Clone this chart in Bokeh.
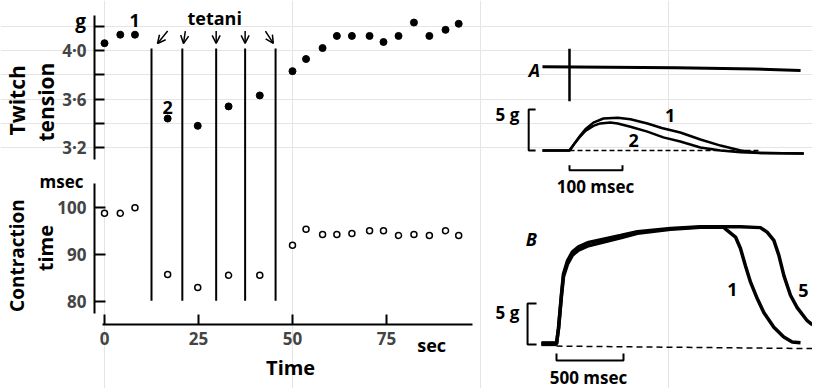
import math
from bokeh.plotting import figure
from bokeh.models import (Range1d, FixedTicker, Label, Arrow, OpenHead, ColumnDataSource,
                          LinearAxis)
from bokeh.embed import file_html
from bokeh.resources import INLINE

FONT = "Open Sans"

# ---------------- data: left panel ----------------
time_s = [0, 4.2, 8.1, 16.8, 24.8, 33.0, 41.3, 50.0, 53.6, 58.0, 61.8, 65.8, 70.5, 74.2, 78.2, 82.3, 86.4, 90.7, 94.2]
tension_g = [4.06, 4.13, 4.13, 3.44, 3.38, 3.54, 3.63, 3.83, 3.93, 4.02, 4.12, 4.12, 4.12, 4.07, 4.12, 4.23, 4.12, 4.17, 4.22]
contraction_ms = [98.7, 98.7, 99.9, 85.7, 82.9, 85.5, 85.5, 91.9, 95.3, 94.2, 94.2, 94.4, 95.0, 95.0, 94.0, 94.2, 94.0, 95.0, 94.0]
tetani_s = [12.5, 20.7, 29.7, 37.4, 45.5]
tetani_top_g = 4.016
tetani_bottom_ms = 80.1
arrow_tail_dt = [4.3, 0.8, 0.0, 0.0, -2.7]
arrow_head_dt = [1.6, 0.3, 0.0, 0.0, -0.6]
arrow_tail_g = 4.16
arrow_head_g = 4.058
tension_ticks = [3.2, 3.4, 3.6, 3.8, 4.0, 4.2]
tension_tick_labels = ["3·2", "", "3·6", "", "4·0", ""]
contraction_ticks = [80, 90, 100]
time_ticks = [0, 25, 50, 75]

# ---------------- data: right panel, records ----------------
# A: single twitches (msec after stimulus, g)
a_stim_t = [-51, 200, 350, 436]
a_stim_g = [10.2, 10.1, 9.95, 9.75]
a_spike_g = [6.0, 12.4]
a1_t = [-51, 0, 10, 20, 30, 45, 64, 91, 115, 147, 174, 209, 247, 285, 323, 360, 442]
a1_g = [0, 0, 0.9, 1.8, 2.6, 3.4, 3.9, 4.0, 3.8, 3.3, 2.75, 2.2, 1.34, 0.6, 0.0, -0.3, -0.37]
a2_t = [-51, 0, 10, 20, 30, 45, 58, 77, 91, 115, 147, 177, 209, 247, 285, 323, 360, 442]
a2_g = [0, 0, 0.9, 1.7, 2.4, 3.0, 3.3, 3.4, 3.3, 2.9, 2.3, 1.6, 1.1, 0.37, 0.0, -0.2, -0.3, -0.37]
a_base_end = 360
# B: tetani (msec, g)
b5_t = [-112, 0, 15, 37, 52, 82, 119, 164, 231, 351, 478, 604, 851, 1075, 1246, 1373, 1522, 1572, 1622, 1659, 1697, 1746, 1796, 1871, 1910]
b5_g = [0.1, 0.1, 1.95, 6.1, 8.6, 10.2, 11.3, 11.9, 12.4, 12.85, 13.3, 13.75, 14.15, 14.35, 14.35, 14.35, 14.25, 13.7, 12.7, 10.9, 8.4, 6.0, 4.5, 2.9, 2.4]
b1_t = [-112, 0, 15, 37, 52, 82, 119, 164, 231, 351, 478, 604, 851, 1075, 1246, 1274, 1336, 1373, 1410, 1448, 1498, 1547, 1622, 1696, 1759, 1821]
b1_g = [0.1, 0.1, 1.95, 5.9, 8.25, 9.8, 10.9, 11.5, 12.0, 12.5, 13.0, 13.55, 14.05, 14.3, 14.3, 13.9, 13.1, 11.7, 9.6, 7.6, 5.6, 3.9, 2.1, 0.9, 0.3, 0.2]
b_base_t = [0, 1910]
b_base_g = [-0.2, -0.5]
scale_g = 5
scale_a_ms = 100
scale_b_ms = 500


def style_axis(ax, tick_in):
    ax.axis_line_width = 2
    ax.major_tick_line_width = 2
    ax.major_tick_in = tick_in
    ax.major_tick_out = 0
    ax.minor_tick_line_color = None
    ax.major_label_text_font = FONT
    ax.major_label_text_font_size = "17px"
    ax.major_label_text_font_style = "bold"


def lab(p, x, y, text, size="18px", style="bold", align="center", angle=0.0,
        xr="default", yr="default"):
    p.add_layout(Label(x=x, y=y, text=text, text_font=FONT, text_font_size=size,
                       text_font_style=style, text_align=align, text_baseline="middle",
                       text_color="black", angle=angle, x_range_name=xr, y_range_name=yr))


# One canvas; every panel has its own data ranges.
T0, T1 = 1.2181, 4.4115          # tension (g), default y
C0, C1 = 61.43, 143.98           # contraction time (msec)
p = figure(width=812, height=388, x_range=Range1d(-27.66, 188.30), y_range=Range1d(T0, T1),
           output_backend="svg", toolbar_location=None, title=None,
           x_axis_location=None, y_axis_location=None,
           min_border_left=0, min_border_right=0, min_border_top=0, min_border_bottom=0)
p.extra_y_ranges = {"contraction": Range1d(C0, C1),
                    "ay": Range1d(-29.02, 18.29),
                    "by": Range1d(-5.37, 41.95)}
p.extra_x_ranges = {"ax": Range1d(-1073.58, 458.49),
                    "bx": Range1d(-4149.25, 1910.45)}
p.outline_line_color = None
p.background_fill_color = "white"
p.border_fill_color = "white"


def t2c(g):
    return C0 + (g - T0) * (C1 - C0) / (T1 - T0)


# ---------- left: axes ----------
AXIS_X = -2.66
ya = LinearAxis(fixed_location=AXIS_X, bounds=(3.10, 4.29),
                ticker=FixedTicker(ticks=tension_ticks, minor_ticks=[]))
ya.major_label_overrides = dict(zip(tension_ticks, tension_tick_labels))
style_axis(ya, 10)
ya.major_label_standoff = 8
p.add_layout(ya, "left")

yb = LinearAxis(y_range_name="contraction", fixed_location=AXIS_X, bounds=(77.4, 105),
                ticker=FixedTicker(ticks=contraction_ticks, minor_ticks=[]))
style_axis(yb, 11)
yb.major_label_standoff = 8
p.add_layout(yb, "left")

xb = LinearAxis(y_range_name="contraction", fixed_location=75.04, bounds=(-0.5, 97.9),
                ticker=FixedTicker(ticks=time_ticks, minor_ticks=[]))
style_axis(xb, 10)
xb.major_label_standoff = 7
p.add_layout(xb, "below")

# ---------- left: data ----------
p.segment(x0=tetani_s, y0=[t2c(tetani_top_g)] * 5, x1=tetani_s, y1=[tetani_bottom_ms] * 5,
          line_width=2, line_color="black", y_range_name="contraction")
p.scatter(time_s, tension_g, size=7, color="black")
p.scatter(time_s, contraction_ms, size=6, fill_color="white", line_color="black",
          line_width=1.5, y_range_name="contraction")
arr = ColumnDataSource(dict(
    x0=[t + d for t, d in zip(tetani_s, arrow_tail_dt)],
    x1=[t + d for t, d in zip(tetani_s, arrow_head_dt)],
    y0=[arrow_tail_g] * 5, y1=[arrow_head_g] * 5))
p.add_layout(Arrow(end=OpenHead(size=8, line_width=1.5, line_color="black"),
                   x_start="x0", y_start="y0", x_end="x1", y_end="y1",
                   line_width=1.5, line_color="black", source=arr))
lab(p, 29.3, 4.27, "tetani", size="18px")
lab(p, 8.0, 4.247, "1")
lab(p, 16.8, 3.53, "2")
lab(p, -6.38, 4.239, "g", size="19px")
lab(p, -23.14, 3.59, "Twitch", size="21px", angle=math.pi / 2)
lab(p, -15.43, 3.575, "tension", size="21px", angle=math.pi / 2)
lab(p, -23.4, 89.72, "Contraction", size="19px", angle=math.pi / 2, yr="contraction")
lab(p, -15.7, 91.3, "time", size="20px", angle=math.pi / 2, yr="contraction")
lab(p, -11.44, 105.47, "msec", size="17px", yr="contraction")
lab(p, 87.0, 70.6, "sec", size="18px", yr="contraction")
lab(p, 49.5, 65.9, "Time", size="20px", yr="contraction")

# ---------- A: twitch records ----------
A = dict(x_range_name="ax", y_range_name="ay")
p.line(a_stim_t, a_stim_g, line_width=3, line_color="black", **A)
p.segment(x0=[0], y0=[a_spike_g[0]], x1=[0], y1=[a_spike_g[1]], line_width=2.5,
          line_color="black", **A)
p.line([0, a_base_end], [0, 0], line_width=1.5, line_color="black", line_dash="5 3", **A)
p.line(a1_t, a1_g, line_width=2.5, line_color="black", **A)
p.line(a2_t, a2_g, line_width=2.5, line_color="black", **A)
p.line([-64, -77, -77, -64], [scale_g, scale_g, 0, 0], line_width=2, line_color="black", **A)
p.line([0, 0, scale_a_ms, scale_a_ms], [-1.8, -2.4, -2.4, -1.8], line_width=2,
       line_color="black", **A)
lab(p, -66, 9.76, "A", size="18px", style="bold italic", xr="ax", yr="ay")
lab(p, -117, 4.45, "5 g", size="17px", xr="ax", yr="ay")
lab(p, 49, -4.4, "100 msec", size="17px", xr="ax", yr="ay")
lab(p, 190, 4.27, "1", xr="ax", yr="ay")
lab(p, 121, 1.22, "2", xr="ax", yr="ay")

# ---------- B: tetanus records ----------
B = dict(x_range_name="bx", y_range_name="by")
p.line(b_base_t, b_base_g, line_width=1.5, line_color="black", line_dash="6 4", **B)
p.line(b5_t, b5_g, line_width=3.5, line_color="black", **B)
p.line(b1_t, b1_g, line_width=3.5, line_color="black", **B)
p.line([b5_t[0], b5_t[1]], [b5_g[0], b5_g[1]], line_width=5, line_color="black", **B)
p.line([-149, -216, -216, -149], [scale_g, scale_g, 0, 0], line_width=2, line_color="black", **B)
p.line([0, 0, scale_b_ms, scale_b_ms], [-1.1, -1.95, -1.95, -1.1], line_width=2,
       line_color="black", **B)
lab(p, -187, 12.9, "B", size="18px", style="bold italic", xr="bx", yr="by")
lab(p, -366, 3.85, "5 g", size="17px", xr="bx", yr="by")
lab(p, 239, -4.0, "500 msec", size="17px", xr="bx", yr="by")
lab(p, 1313, 6.7, "1", xr="bx", yr="by")
lab(p, 1843, 6.6, "5", xr="bx", yr="by")

open("out.html", "w").write(file_html(p, INLINE))
